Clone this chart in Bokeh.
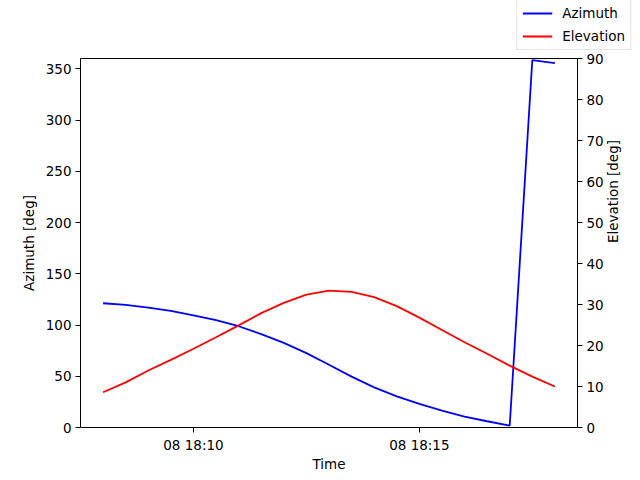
import math
import pandas as pd
from bokeh.plotting import figure
from bokeh.layouts import column
from bokeh.models import (Range1d, LinearAxis, FixedTicker, DatetimeTickFormatter,
                          Legend, LegendItem)
from bokeh.embed import file_html
from bokeh.resources import INLINE

times = pd.date_range("2024-05-08 18:08:00", "2024-05-08 18:18:00", freq="30s")
azimuth = [121.2, 119.6, 117.0, 113.7, 109.5, 104.7, 98.8, 91.1, 82.6, 72.6, 61.2,
           49.6, 39.2, 30.4, 23.0, 16.5, 10.7, 6.1, 1.9, 358.5, 355.5]
elevation = [8.6, 11.0, 13.9, 16.5, 19.2, 22.0, 24.9, 27.9, 30.4, 32.4, 33.4,
             33.1, 31.8, 29.6, 26.8, 23.8, 20.8, 18.0, 15.1, 12.4, 10.0]
x_ticks = [pd.Timestamp("2024-05-08 18:10:00"), pd.Timestamp("2024-05-08 18:15:00")]
az_ticks = [0, 50, 100, 150, 200, 250, 300, 350]
el_ticks = [0, 10, 20, 30, 40, 50, 60, 70, 80, 90]

FONT = "DejaVu Sans"
FS = "13.5px"

x0 = pd.Timestamp("2024-05-08 18:07:30")
x1 = pd.Timestamp("2024-05-08 18:18:30")

# main chart
p = figure(x_axis_type="datetime", output_backend="svg", toolbar_location=None,
           width=632, height=421, frame_width=497, frame_height=369,
           x_range=Range1d(x0, x1), y_range=Range1d(0, 360),
           min_border_left=80, min_border_right=55, min_border_top=7, min_border_bottom=45)
p.extra_y_ranges = {"elev": Range1d(0, 90)}
p.xgrid.visible = False
p.ygrid.visible = False
p.outline_line_color = "black"
p.outline_line_width = 1
p.background_fill_color = "white"
p.border_fill_color = "white"

r_az = p.line(times, azimuth, line_color="blue", line_width=1.8)
r_el = p.line(times, elevation, line_color="red", line_width=1.8, y_range_name="elev")

right = LinearAxis(y_range_name="elev", axis_label="Elevation [deg]")
p.add_layout(right, "right")

p.xaxis.ticker = FixedTicker(ticks=[t.value // 10**6 for t in x_ticks])
p.xaxis.formatter = DatetimeTickFormatter(minutes="%d %H:%M", hours="%d %H:%M",
                                          minsec="%d %H:%M", seconds="%d %H:%M")
p.xaxis.axis_label = "Time"
p.yaxis[0].ticker = FixedTicker(ticks=az_ticks)
p.yaxis[0].axis_label = "Azimuth [deg]"
right.ticker = FixedTicker(ticks=el_ticks)
right.axis_label_orientation = math.pi / 2

for ax in [p.xaxis[0], p.yaxis[0], right]:
    ax.axis_line_color = None
    ax.major_tick_line_color = "black"
    ax.major_tick_out = 5
    ax.major_tick_in = 0
    ax.minor_tick_line_color = None
    ax.major_label_text_font = FONT
    ax.major_label_text_font_size = FS
    ax.major_label_text_color = "black"
    ax.axis_label_text_font = FONT
    ax.axis_label_text_font_size = FS
    ax.axis_label_text_font_style = "normal"
    ax.axis_label_text_color = "black"
    ax.major_label_standoff = 4
    ax.axis_label_standoff = 6
p.xaxis[0].axis_label_standoff = 0

# top strip holding the figure-level legend
top = figure(output_backend="svg", toolbar_location=None, width=632, height=51,
             frame_width=632, frame_height=51,
             x_range=Range1d(0, 1), y_range=Range1d(0, 1),
             x_axis_location=None, y_axis_location=None,
             min_border_left=0, min_border_right=0, min_border_top=0, min_border_bottom=0)
top.grid.visible = False
top.outline_line_color = None
top.background_fill_color = "white"
top.border_fill_color = "white"
t_az = top.line(times, azimuth, line_color="blue", line_width=1.8)
t_el = top.line(times, elevation, line_color="red", line_width=1.8)

legend = Legend(items=[LegendItem(label="Azimuth", renderers=[t_az]),
                       LegendItem(label="Elevation", renderers=[t_el])],
                location="bottom_right")
legend.label_text_font = FONT
legend.label_text_font_size = FS
legend.label_text_color = "black"
legend.border_line_color = "#c8c8c8"
legend.border_line_width = 1
legend.background_fill_alpha = 0.8
legend.glyph_width = 30
legend.glyph_height = 14
legend.spacing = 7
legend.padding = 5
legend.margin = 1
legend.label_standoff = 10
top.add_layout(legend, "center")

layout = column(top, p, spacing=0)
open("out.html", "w").write(file_html(layout, INLINE))
